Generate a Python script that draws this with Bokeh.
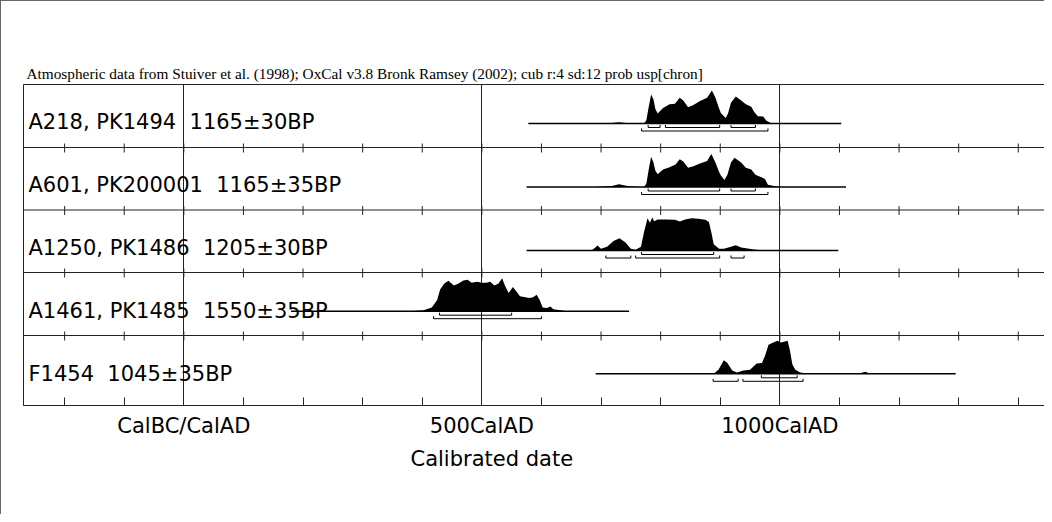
from bokeh.plotting import figure
from bokeh.models import Range1d, FixedTicker, Span, Title
from bokeh.embed import file_html
from bokeh.resources import INLINE
from bokeh.core.properties import value

# ---------------- data ----------------
title_text = ("Atmospheric data from Stuiver et al. (1998); OxCal v3.8 Bronk Ramsey (2002); "
              "cub r:4 sd:12 prob usp[chron]")
sample_labels = ["A218, PK1494 \u00a01165\u00b130BP",
                 "A601, PK200001 \u00a01165\u00b135BP",
                 "A1250, PK1486 \u00a01205\u00b130BP",
                 "A1461, PK1485 \u00a01550\u00b135BP",
                 "F1454 \u00a01045\u00b135BP"]

tick_years = list(range(-200, 1401, 100))
tick_labels = {0: "CalBC/CalAD", 500: "500CalAD", 1000: "1000CalAD"}
grid_years = [0, 500, 1000]
axis_title = "Calibrated date"

# extent of each calibrated curve (cal years AD)
span_start = [578, 575, 575, 180, 691]
span_end = [1103, 1111, 1098, 747, 1295]

a218_year = [690, 713, 730, 747, 758, 772, 776, 780, 784, 788, 791, 795, 804, 815, 824, 832, 838, 846,
             855, 866, 878, 886, 892, 897, 901, 909, 913, 918, 926, 935, 943, 952, 957, 963, 972, 977, 986]
a218_prob = [0, 0.01, 0.04, 0.01, 0, 0, 0.10, 0.51, 0.88, 0.73, 0.45, 0.30, 0.47, 0.58, 0.60, 0.78, 0.70, 0.49,
             0.56, 0.68, 0.78, 1.00, 0.78, 0.51, 0.32, 0.17, 0.30, 0.63, 0.82, 0.70, 0.58, 0.51, 0.35, 0.22, 0.21, 0.09, 0]

a601_year = [690, 718, 730, 747, 764, 772, 776, 780, 784, 788, 791, 795, 804, 815, 825, 832, 838, 846, 855,
             866, 878, 885, 892, 897, 901, 907, 912, 918, 924, 935, 943, 952, 959, 966, 975, 980, 992, 1003]
a601_prob = [0, 0.03, 0.08, 0.02, 0, 0, 0.10, 0.53, 0.92, 0.74, 0.50, 0.39, 0.53, 0.60, 0.68, 0.84, 0.77, 0.58, 0.63,
             0.71, 0.79, 1.00, 0.74, 0.50, 0.35, 0.21, 0.37, 0.74, 0.89, 0.74, 0.58, 0.53, 0.37, 0.32, 0.24, 0.07, 0.02, 0]

a1250_year = [684, 690, 694, 700, 710, 721, 731, 741, 750, 758, 767, 772, 778, 782, 786, 789, 795, 809,
              824, 832, 841, 852, 863, 875, 881, 885, 889, 898, 906, 918, 926, 935, 946, 957, 975]
a1250_prob = [0, 0.08, 0.15, 0.05, 0.11, 0.29, 0.37, 0.24, 0.05, 0.02, 0.11, 0.55, 0.98, 0.84, 1.00, 0.89, 0.94, 0.94,
              0.93, 0.88, 0.94, 0.98, 0.96, 0.93, 0.86, 0.55, 0.19, 0.05, 0.05, 0.11, 0.16, 0.09, 0.06, 0.03, 0]

a1461_year = [374, 391, 402, 416, 425, 430, 437, 444, 453, 461, 469, 476, 483, 492, 500, 508, 514, 521,
              528, 534, 539, 545, 552, 558, 564, 573, 580, 586, 592, 597, 602, 609, 615, 620, 632, 643]
a1461_prob = [0, 0.01, 0.03, 0.11, 0.34, 0.66, 0.84, 0.92, 0.78, 0.84, 0.93, 0.95, 0.86, 0.89, 0.86, 0.86, 0.89, 0.78,
              0.84, 1.00, 0.76, 0.55, 0.73, 0.60, 0.45, 0.42, 0.40, 0.42, 0.50, 0.34, 0.11, 0.10, 0.14, 0.06, 0.03, 0]

f1454_year = [878, 889, 897, 906, 912, 920, 928, 939, 950, 961, 970, 975, 981, 989, 996, 1002, 1007, 1013,
              1017, 1021, 1026, 1034, 1045, 1070, 1101, 1118, 1135, 1143, 1152]
f1454_prob = [0, 0, 0.12, 0.41, 0.33, 0.10, 0.04, 0.10, 0.12, 0.31, 0.33, 0.54, 0.88, 0.95, 1.00, 0.95, 0.97, 1.00,
              0.70, 0.28, 0.12, 0.04, 0.01, 0.01, 0.02, 0.01, 0.02, 0.06, 0]

# highest-probability ranges (68.2% and 95.4%)
a218_68 = [(779, 799), (808, 899), (918, 959)]
a218_95 = [(768, 980)]
a601_68 = [(779, 899), (918, 959)]
a601_95 = [(768, 980)]
a1250_68 = [(768, 889)]
a1250_95 = [(708, 750), (758, 899), (918, 940)]
a1461_68 = [(429, 550)]
a1461_95 = [(419, 600)]
f1454_68 = [(969, 1029)]
f1454_95 = [(888, 930), (938, 1039)]

years = [a218_year, a601_year, a1250_year, a1461_year, f1454_year]
probs = [a218_prob, a601_prob, a1250_prob, a1461_prob, f1454_prob]
ranges68 = [a218_68, a601_68, a1250_68, a1461_68, f1454_68]
ranges95 = [a218_95, a601_95, a1250_95, a1461_95, f1454_95]

# ---------------- layout (pixel-like y units inside the frame) ----------------
X0, X1 = -269, 1444
sep_y = [258, 195.5, 133, 70]              # row separators
base_y = [282, 218.5, 155, 94.3, 31.7]     # curve baselines
label_y = [284, 220.5, 158, 95, 32]        # label anchors
peak_h = 33
ink = "#222222"
sans = "DejaVu Sans"

p = figure(width=1044, height=514, x_range=Range1d(X0, X1), y_range=Range1d(0, 321),
           output_backend="svg", toolbar_location=None, y_axis_location=None,
           min_border_left=22, min_border_right=1, min_border_top=83, min_border_bottom=110,
           title=title_text)
p.styles = {"border-left": "1px solid #666666", "border-top": "1px solid #666666"}
p.background_fill_color = "white"
p.border_fill_color = "white"
p.outline_line_color = ink
p.outline_line_width = 1

p.title.align = "left"
p.title.offset = 3
p.title.standoff = 5
p.title.text_font = "Liberation Serif"
p.title.text_font_size = "15.3px"
p.title.text_font_style = "normal"
p.title.text_color = "black"

p.ygrid.visible = False
p.xgrid.ticker = FixedTicker(ticks=grid_years)
p.xgrid.grid_line_color = ink
p.xgrid.grid_line_alpha = 1
p.xgrid.grid_line_width = 1

ax = p.xaxis[0]
ax.ticker = FixedTicker(ticks=tick_years)
ax.major_label_overrides = {t: tick_labels.get(t, "") for t in tick_years}
ax.major_tick_in = 8
ax.major_tick_out = 0
ax.minor_tick_line_color = None
ax.major_tick_line_color = ink
ax.axis_line_color = ink
ax.major_label_standoff = 8
ax.major_label_text_font = sans
ax.major_label_text_font_size = "21px"
ax.major_label_text_color = "black"

p.add_layout(Title(text=axis_title, align="left", offset=387, standoff=8,
                   text_font=sans, text_font_size="21px", text_font_style="normal",
                   text_color="black"), "below")

for s in sep_y:
    p.add_layout(Span(location=s, dimension="width", line_color=ink, line_width=1))

# cross ticks on the row separators
tx, ty0, ty1 = [], [], []
for s in sep_y:
    for t in tick_years:
        tx.append(t); ty0.append(s - 5); ty1.append(s + 4)
p.segment(x0=tx, x1=tx, y0=ty0, y1=ty1, line_color=ink, line_width=1)

for i in range(5):
    b = base_y[i]
    p.varea(x=years[i], y1=[b] * len(years[i]), y2=[b + v * peak_h for v in probs[i]], fill_color="black")
    p.segment(x0=[span_start[i]], x1=[span_end[i]], y0=[b], y1=[b], line_color="black", line_width=1.6)
    for rset, off in ((ranges68[i], 4), (ranges95[i], 7.5)):
        yy = b - off
        hx0 = [r[0] for r in rset]; hx1 = [r[1] for r in rset]
        p.segment(x0=hx0, x1=hx1, y0=[yy] * len(rset), y1=[yy] * len(rset), line_color="black", line_width=1)
        ex = hx0 + hx1
        p.segment(x0=ex, x1=ex, y0=[yy] * len(ex), y1=[yy + 2.5] * len(ex), line_color="black", line_width=1)

p.text(x=[X0] * 5, y=label_y, text=sample_labels, x_offset=5, text_baseline="middle",
       text_font=value(sans), text_font_size="21px", text_color="black")

open("out.html", "w").write(file_html(p, INLINE))
